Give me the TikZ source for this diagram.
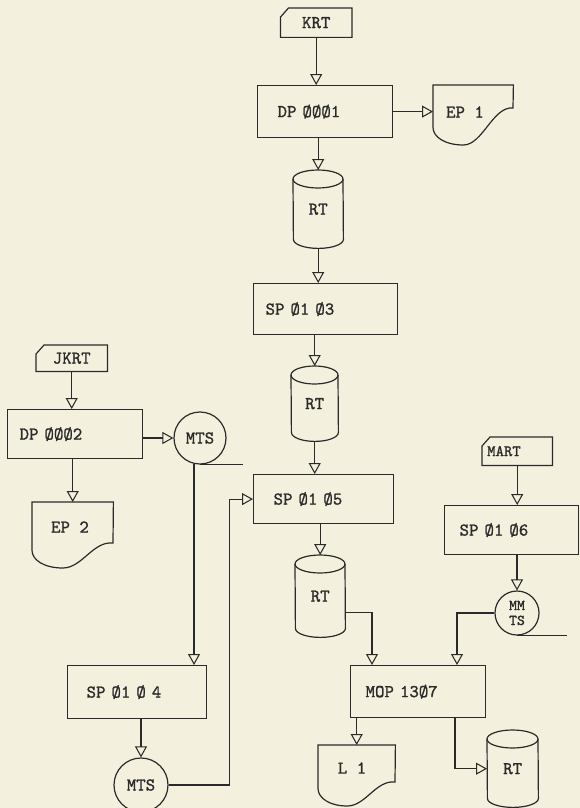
\documentclass[tikz,border=0pt]{standalone}
\usepackage{fontspec}
\newfontfamily\twfont{lmmono10-regular.otf}[FakeBold=1.2]
\usetikzlibrary{arrows.meta,calc}
\definecolor{paper}{HTML}{F3F1DD}
\definecolor{ink}{HTML}{2A2A2A}
\tikzset{
  ln/.style={draw=ink, line width=1.2pt},
  arr/.style={draw=ink, line width=1.05pt, -{Triangle[open, length=11pt, width=12pt]}},
  tx/.style={font=\twfont\fontsize{18}{19}\selectfont, text=ink},
  procbox/.style={ln, tx, rectangle, inner ysep=0pt, align=left, anchor=north west},
  shapenode/.style={tx, inner sep=0pt, anchor=north west},
  lbl/.style={tx, inner sep=0pt},
  tapenode/.style={ln, tx, circle, inner sep=0pt},
}
\newcommand\cylpath[2]{%
  \draw[ln] ($(#1.north west)+(0,-9)$) arc[start angle=180,end angle=0,x radius=#2,y radius=9]
     -- ($(#1.south east)+(0,9)$) arc[start angle=0,end angle=-180,x radius=#2,y radius=9] -- cycle;
  \draw[ln] ($(#1.north west)+(0,-9)$) arc[start angle=180,end angle=360,x radius=#2,y radius=9];}
\newcommand\cardpath[1]{%
  \draw[ln] ($(#1.north west)+(8,0)$) -- (#1.north east) -- (#1.south east) -- (#1.south west) -- ($(#1.north west)+(0,-9)$) -- cycle;}
\newcommand\docpath[4]{%
  \draw[ln] (#1.south west) -- (#1.north west) -- (#1.north east) -- ($(#1.north west)+(#2,-#3)$)
    .. controls ($(#1.north west)+(0.75*#2,-#3+2)$) and ($(#1.north west)+(0.62*#2,-#4)$) .. ($(#1.north west)+(0.38*#2,-#4)$)
    .. controls ($(#1.north west)+(0.15*#2,-#4)$) and ($(#1.north west)+(0,-#4+8)$) .. (#1.south west);}
\begin{document}
\begin{tikzpicture}[x=1pt,y=1pt]
\fill[paper] (0,0) rectangle (580,-808);
\useasboundingbox (0,0) rectangle (580,-808);

% ---------- centre column ----------
\node[shapenode, minimum width=71pt, minimum height=29pt] (krt) at (280.5,-8) {KRT};
\cardpath{krt}
\node[procbox, minimum width=135pt, minimum height=52pt, text width=95pt, inner xsep=20pt] (dp1) at (257,-85) {DP ØØØ1};
\node[shapenode, minimum width=80pt, minimum height=42pt] (ep1) at (433,-85) {};
\docpath{ep1}{80}{23}{60}
\node[lbl] (ep1t) at (465,-112) {EP 1};
\node[shapenode, minimum width=50pt, minimum height=78pt] (rt1) at (293,-170) {RT};
\cylpath{rt1}{25}
\node[procbox, minimum width=144pt, minimum height=51pt, text width=120pt, inner xsep=12pt] (sp3) at (253,-283) {SP Ø1 Ø3};
\node[shapenode, minimum width=47pt, minimum height=75pt] (rt2) at (291,-366) {RT};
\cylpath{rt2}{23.5}
\node[procbox, minimum width=140pt, minimum height=49pt, text width=100pt, inner xsep=20pt] (sp5) at (253,-474) {SP Ø1 Ø5};
\node[shapenode, minimum width=50pt, minimum height=82pt] (rt3) at (295,-555) {RT};
\cylpath{rt3}{25}
\node[procbox, minimum width=135pt, minimum height=52pt, text width=105pt, inner xsep=15pt] (mop) at (350,-665) {MOP 13Ø7};
\node[shapenode, minimum width=77pt, minimum height=43pt] (l1) at (318,-745) {};
\docpath{l1}{77}{37}{61}
\node[lbl] (l1t) at (352,-768) {L 1};
\node[shapenode, minimum width=51pt, minimum height=77pt] (rt4) at (487,-730) {RT};
\cylpath{rt4}{25.5}

% ---------- right column ----------
\node[shapenode, minimum width=70pt, minimum height=28pt, text width=60pt, align=left, inner xsep=5pt, font=\twfont\fontsize{16}{17}\selectfont] (mart) at (482,-437) {MART};
\cardpath{mart}
\node[procbox, minimum width=134pt, minimum height=49pt, text width=104pt, inner xsep=15pt] (sp6) at (444,-505) {SP Ø1 Ø6};
\node[tapenode, minimum size=44pt, align=center, font=\twfont\fontsize{15}{15}\selectfont] (mmts) at (517,-613) {MM\\TS};
\draw[ln] (mmts.south) -- ++(50,0);

% ---------- left column ----------
\node[shapenode, minimum width=71pt, minimum height=26pt] (jkrt) at (36,-345) {JKRT};
\cardpath{jkrt}
\node[procbox, minimum width=135pt, minimum height=49pt, text width=111pt, inner xsep=12pt] (dp2) at (7,-409) {DP ØØØ2};
\node[tapenode, minimum size=52pt] (mts1) at (200,-438) {MTS};
\draw[ln] (mts1.south) -- ++(43,0);
\node[shapenode, minimum width=81pt, minimum height=48pt] (ep2) at (32,-502) {};
\docpath{ep2}{81}{41}{66}
\node[lbl] (ep2t) at (70,-527) {EP 2};
\node[procbox, minimum width=139pt, minimum height=53pt, text width=101pt, inner xsep=19pt] (sp4) at (67,-665) {SP Ø1 Ø 4};
\node[tapenode, minimum size=54pt] (mts2) at (141,-785) {MTS};

% ---------- connectors ----------
\draw[arr] (krt.south) -- (krt.south |- dp1.north);
\draw[arr] (dp1.east) -- (dp1.east -| ep1.west);
\draw[arr] (rt1.north |- dp1.south) -- (rt1.north);
\draw[arr] (rt1.south) -- (rt1.south |- sp3.north);
\draw[arr] (rt2.north |- sp3.south) -- (rt2.north);
\draw[arr] (rt2.south) -- (rt2.south |- sp5.north);
\draw[arr] (rt3.north |- sp5.south) -- (rt3.north);
\draw[arr] ($(rt3.east)+(0,-16)$) -| ($(mop.north west)+(22,0)$);
\draw[arr] (mmts.west) -| ($(mop.north west)+(107,0)$);
\draw[arr] (l1.north |- mop.south) -- (l1.north);
\draw[arr] ($(mop.south west)+(105,0)$) |- (rt4.west);
\draw[arr] (mart.south) -- (mart.south |- sp6.north);
\draw[arr] (mmts.north |- sp6.south) -- (mmts.north);
\draw[arr] (jkrt.south) -- (jkrt.south |- dp2.north);
\draw[arr] (mts1.west -| dp2.east) -- (mts1.west);
\draw[arr] (ep2.north |- dp2.south) -- (ep2.north);
\draw[arr] (mts1.257) -- (mts1.257 |- sp4.north);
\draw[arr] (mts2.north |- sp4.south) -- (mts2.north);
\draw[arr] (mts2.east) -- ++(61,0) |- (sp5.west);
\end{tikzpicture}
\end{document}
